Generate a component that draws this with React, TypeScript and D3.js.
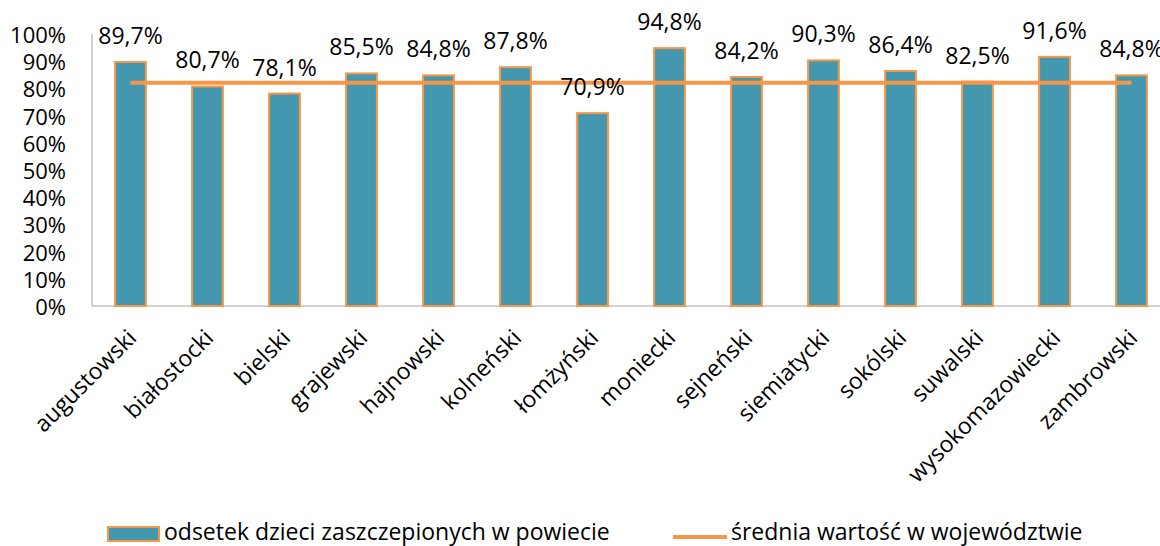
import * as d3 from 'd3'
import React from 'react'

// powiaty województwa podlaskiego
const categories = [
  'augustowski', 'białostocki', 'bielski', 'grajewski', 'hajnowski', 'kolneński', 'łomżyński',
  'moniecki', 'sejneński', 'siemiatycki', 'sokólski', 'suwalski', 'wysokomazowiecki', 'zambrowski',
]
const values = [89.7, 80.7, 78.1, 85.5, 84.8, 87.8, 70.9, 94.8, 84.2, 90.3, 86.4, 82.5, 91.6, 84.8]
const average = 82.1
const yTicks = [0, 10, 20, 30, 40, 50, 60, 70, 80, 90, 100]
const seriesNames = ['odsetek dzieci zaszczepionych w powiecie', 'średnia wartość w województwie']

const W = 1160
const H = 546
const FONT = '"Open Sans", Calibri, sans-serif'
const FS = 23
const BAR = '#4397AE'
const ORANGE = '#F79646'

const fmt = (v: number) => v.toFixed(1).replace('.', ',') + '%'

export default function App() {
  const x = d3.scaleBand().domain(categories).range([92, 1170]).paddingInner(0.6).paddingOuter(0.3)
  const y = d3.scaleLinear().domain([0, 100]).range([306, 34])
  const cx = (c: string) => (x(c) as number) + x.bandwidth() / 2

  const avgLine = d3.line<string>().x(cx).y(() => y(average))

  return (
    <svg width={W} height={H} style={{ position: 'absolute', left: 0, top: 0, background: '#fff' }}
      fontFamily={FONT}>
      {/* axes */}
      <line x1={92} x2={92} y1={y(100)} y2={y(0)} stroke="#A6A6A6" strokeWidth={1} />
      <line x1={92} x2={1170} y1={y(0)} y2={y(0)} stroke="#A6A6A6" strokeWidth={1} />
      {yTicks.map(t => (
        <text key={t} x={66} y={y(t)} textAnchor="end" dominantBaseline="central" fontSize={22} fill="#000">
          {t + '%'}
        </text>
      ))}

      {/* bars */}
      {categories.map((c, i) => (
        <rect key={c} x={x(c)} y={y(values[i])} width={x.bandwidth()} height={y(0) - y(values[i])}
          fill={BAR} stroke={ORANGE} strokeWidth={2} />
      ))}

      {/* average line */}
      <path d={avgLine(categories) || ''} fill="none" stroke={ORANGE} strokeWidth={4} />

      {/* data labels */}
      {categories.map((c, i) => (
        <text key={c} x={cx(c)} y={y(values[i]) - 27} textAnchor="middle" dominantBaseline="central"
          fontSize={FS} fill="#000">
          {fmt(values[i])}
        </text>
      ))}

      {/* category labels */}
      {categories.map(c => (
        <text key={c} transform={`translate(${cx(c) + 1},${y(0) + 27}) rotate(-45)`} textAnchor="end"
          dominantBaseline="central" fontSize={FS} fill="#000">
          {c}
        </text>
      ))}

      {/* legend */}
      <rect x={108} y={527} width={51} height={14} fill={BAR} stroke={ORANGE} strokeWidth={2} />
      <text x={164} y={540} fontSize={23} fill="#000">{seriesNames[0]}</text>
      <line x1={673} x2={727} y1={537} y2={537} stroke={ORANGE} strokeWidth={4} />
      <text x={731} y={540} fontSize={23} fill="#000">{seriesNames[1]}</text>
    </svg>
  )
}
